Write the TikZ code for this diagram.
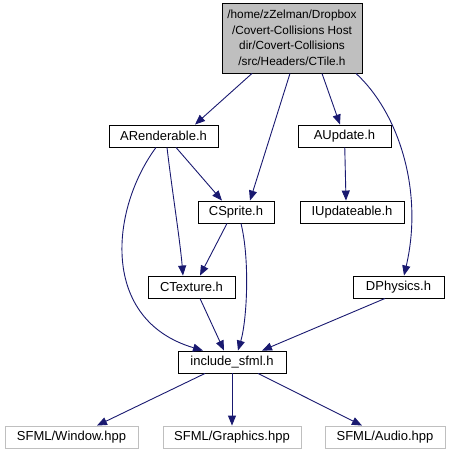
\documentclass[tikz,border=0pt]{standalone}
\usepackage{fontspec}
\setmainfont{Liberation Sans}
\usetikzlibrary{arrows.meta}
\definecolor{edgeblue}{HTML}{191970}
\definecolor{sysgray}{HTML}{BFBFBF}
\begin{document}
\begin{tikzpicture}[
  x=1pt,
  y=-1pt,
  file/.style={draw=black,line width=0.9pt,fill=white,inner sep=0pt,minimum height=22pt,font=\fontsize{13}{15}\selectfont},
  sysfile/.style={file,draw=sysgray},
  dep/.style={draw=edgeblue,line width=0.9pt,-{Triangle[length=10pt,width=8pt]}}
]
\useasboundingbox (0,0) rectangle (449,456);
\node[file,fill=sysgray,minimum width=140pt,minimum height=70pt,align=center,font=\fontsize{11.8}{15.5}\selectfont]
  (ctile) at (292,38) {/home/zZelman/Dropbox\\/Covert-Collisions Host\\dir/Covert-Collisions\\/src/Headers/CTile.h};
\node[file,minimum width=109pt] (arend) at (163.5,136) {ARenderable.h};
\node[file,minimum width=93pt] (aupd) at (344.5,136) {AUpdate.h};
\node[file,minimum width=76pt] (csprite) at (236,212) {CSprite.h};
\node[file,minimum width=104pt] (iupd) at (352,212) {IUpdateable.h};
\node[file,minimum width=87pt] (ctex) at (191.5,287) {CTexture.h};
\node[file,minimum width=91pt] (dphys) at (398.5,287) {DPhysics.h};
\node[file,minimum width=108pt] (incl) at (232,362) {include\_sfml.h};
\node[sysfile,minimum width=133pt] (win) at (71.5,437) {SFML/Window.hpp};
\node[sysfile,minimum width=138pt] (gfx) at (232,437) {SFML/Graphics.hpp};
\node[sysfile,minimum width=120pt] (audio) at (385,437) {SFML/Audio.hpp};
% edges from CTile.h
\draw[dep] (ctile.south -| 252,0) -- (arend.north -| 195,0);
\draw[dep] (ctile.south -| 290,0) -- (csprite.north -| 250,0);
\draw[dep] (ctile.south -| 322,0) -- (aupd.north -| 340,0);
\draw[dep] (ctile.south -| 356,0) .. controls (398,112) and (424,190) .. (dphys.north -| 404,0);
% edges from ARenderable.h
\draw[dep] (arend.south -| 176,0) -- (csprite.north -| 222,0);
\draw[dep] (arend.south -| 167,0) .. controls (172,190) and (180,240) .. (ctex.north -| 183,0);
\draw[dep] (arend.south -| 156,0) .. controls (110,210) and (100,320) .. (incl.north -| 203,0);
\draw[dep] (aupd) -- (iupd.north -| 346,0);
% edges from CSprite.h
\draw[dep] (csprite.south -| 227,0) -- (ctex.north -| 200,0);
\draw[dep] (csprite.south -| 241,0) .. controls (250,260) and (247,320) .. (incl.north -| 238,0);
\draw[dep] (ctex.south -| 200,0) -- (incl.north -| 224,0);
\draw[dep] (dphys.south -| 385,0) -- (incl.north -| 262,0);
% edges to SFML headers
\draw[dep] (incl.south -| 205,0) -- (win.north -| 97,0);
\draw[dep] (incl) -- (gfx);
\draw[dep] (incl.south -| 258,0) -- (audio.north -| 362,0);
\end{tikzpicture}
\end{document}
